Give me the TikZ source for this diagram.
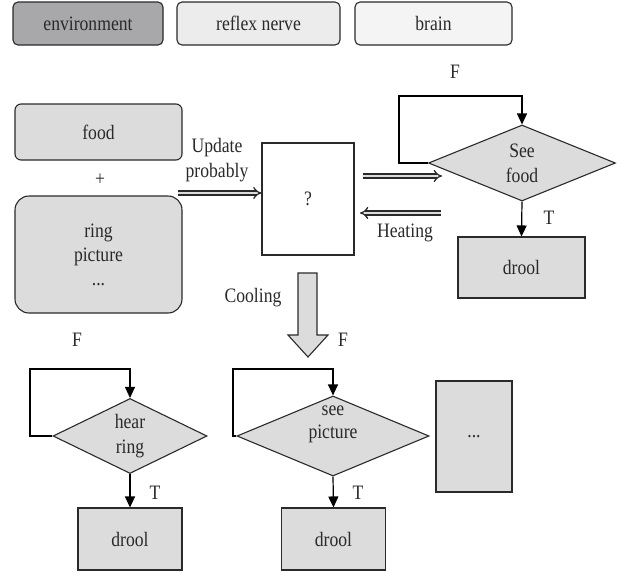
\documentclass[tikz,border=0pt]{standalone}
\usepackage{fontspec}
\setmainfont{Liberation Serif}[FakeStretch=0.86]
\usetikzlibrary{shapes.geometric,arrows.meta}
\definecolor{envfill}{HTML}{A8A8AA}
\definecolor{nervefill}{HTML}{ECECEC}
\definecolor{brainfill}{HTML}{F4F4F4}
\definecolor{boxfill}{HTML}{DCDCDC}
\definecolor{ink}{HTML}{2A2A2A}
\tikzset{
  every node/.style={font=\fontsize{20.5}{25}\selectfont, text=ink},
  hdr/.style={draw=ink, line width=1.1pt, rounded corners=5pt, minimum width=#1, minimum height=43pt, inner sep=0pt},
  gbox/.style={draw=ink, line width=1.1pt, fill=boxfill, inner sep=0pt},
  dec/.style={draw=ink, line width=1.1pt, fill=boxfill, shape=diamond, shape aspect=2.4, inner sep=0pt, align=center},
  flow/.style={draw=black, line width=1.2pt, -{Triangle[length=11pt,width=10pt]}},
  hollow/.style={draw=ink, line width=1.3pt, double=boxfill, double distance=2.8pt, -{Implies[length=8pt,width=12pt]}},
  lbl/.style={inner sep=0pt}
}
\begin{document}
\begin{tikzpicture}[x=1pt,y=-1pt]
\useasboundingbox (0,0) rectangle (633,576);
% header
\node[hdr=150pt, fill=envfill] (env) at (88,23.5) {environment};
\node[hdr=163pt, fill=nervefill] (nerve) at (258.5,23.5) {reflex nerve};
\node[hdr=157pt, fill=brainfill] (brain) at (433.5,23.5) {brain};
% inputs
\node[gbox, rounded corners=6pt, minimum width=167pt, minimum height=56pt] (food) at (98.5,132) {food};
\node[lbl] (plus) at (100,180) {+};
\node[gbox, rounded corners=14pt, minimum width=167pt, minimum height=117pt, align=center] (ring) at (98.5,254.5) {ring\\[-1pt]picture\\[-1pt]...};
% central box
\node[draw=ink, line width=1.1pt, fill=white, minimum width=92pt, minimum height=112pt, inner sep=0pt] (q) at (308,199) {?};
\node[lbl, align=center] (upd) at (217,160) {Update\\probably};
\coordinate (ua) at (178,193);
\draw[hollow] (ua) -- (ua -| q.west);
% top decision
\node[dec, minimum width=187pt, minimum height=76pt] (sf) at (522,163) {See\\food};
\coordinate (ra) at (442,176);
\draw[hollow] (q.east |- ra) ++(8,0) coordinate (rs) -- (ra);
\coordinate (hs) at (441,213);
\coordinate (he) at (360,213);
\draw[hollow] (hs) -- (he);
\node[lbl] (heat) at (405,233) {Heating};
\coordinate (l1) at (399,96);
\draw[flow] (sf.west) -| (l1) -| (sf.north);
\node[lbl] (f1) at (455,72) {F};
\node[gbox, minimum width=127pt, minimum height=61pt] (d1) at (521.5,267.5) {drool};
\draw[flow] (sf.south) -- (d1.north);
\node[lbl] (t1) at (549,218) {T};
% cooling arrow
\draw[draw=ink, line width=1.1pt, fill=boxfill, line join=miter]
  (298,273) -- (317,273) -- (317,335) -- (328,335) -- (308,357) -- (288,335) -- (298,335) -- cycle;
\node[lbl] (cool) at (253,298) {Cooling};
% bottom left
\node[dec, minimum width=154pt, minimum height=75pt] (hr) at (130,436) {hear\\ring};
\coordinate (l2) at (30,369);
\draw[flow] (hr.west) -| (l2) -| (hr.north);
\node[lbl] (f2) at (77,340) {F};
\node[gbox, minimum width=104pt, minimum height=62pt] (d2) at (130,539) {drool};
\draw[flow] (hr.south) -- (d2.north);
\node[lbl] (t2) at (155,493) {T};
% bottom middle
\node[dec, minimum width=155pt, minimum height=75pt] (sp) at (333,436) {see\\[-2pt]picture\\[2pt]};
\coordinate (l3) at (233,369);
\draw[flow] (sp.west) -| (l3) -| (sp.north);
\node[lbl] (f3) at (343,340) {F};
\node[gbox, minimum width=104pt, minimum height=62pt] (d3) at (333.5,539) {drool};
\draw[flow] (sp.south) -- (d3.north);
\node[lbl] (t3) at (358,493) {T};
% dots box
\node[gbox, minimum width=76pt, minimum height=111pt] (dots) at (474,436.5) {...};
\end{tikzpicture}
\end{document}
